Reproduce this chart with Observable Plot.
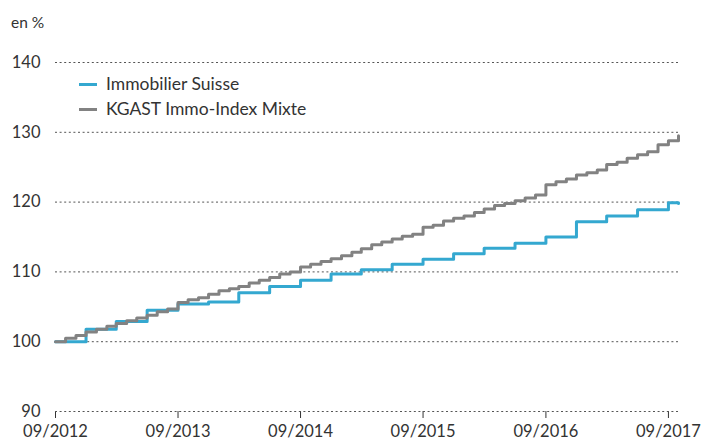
<!DOCTYPE html>
<html>
<head>
<meta charset="utf-8">
<script src="https://cdn.jsdelivr.net/npm/d3@7"></script>
<script src="https://cdn.jsdelivr.net/npm/@observablehq/plot@0.6"></script>
<style>
  html, body { margin: 0; padding: 0; background: #fff; }
  #wrap { position: relative; width: 702px; height: 441px; font-family: Lato, "Noto Sans", sans-serif; color: #333; }
  #unit { height: 40px; box-sizing: border-box; padding: 13px 0 0 11px; font-size: 15.5px; line-height: 18px; }
  #legend { position: absolute; left: 79px; top: 71px; font-size: 17.5px; line-height: 25px; }
  #legend .row { white-space: nowrap; }
  #legend .sw { display: inline-block; width: 18px; height: 3px; vertical-align: middle; margin-right: 9px; position: relative; top: -1px; }
  svg { display: block; }
</style>
</head>
<body>
<div id="wrap">
  <div id="unit">en %</div>
  <div id="chart"></div>
  <div id="legend"></div>
</div>
<script>
// ---- data ----
const startMonth = "2012-09-01";
const seriesNames = ["Immobilier Suisse", "KGAST Immo-Index Mixte"];
const seriesColors = ["#34a8d0", "#828282"];

// KGAST Immo-Index Mixte: monthly values from 09/2012 (index 0) to 10/2017 (index 61)
const kgastValues = [
  100.0, 100.5, 100.9, 101.4, 101.8, 102.2, 102.6, 103.0, 103.4, 103.8, 104.3, 104.7,
  105.6, 106.0, 106.3, 106.8, 107.3, 107.6, 107.9, 108.4, 108.8, 109.2, 109.7, 110.0,
  110.7, 111.1, 111.5, 111.9, 112.3, 112.8, 113.3, 113.9, 114.3, 114.7, 115.1, 115.4,
  116.4, 116.7, 117.3, 117.7, 118.0, 118.5, 119.0, 119.5, 119.8, 120.2, 120.6, 121.0,
  122.5, 122.9, 123.3, 123.9, 124.2, 124.6, 125.4, 125.7, 126.3, 126.8, 127.2, 128.2,
  128.8, 129.5
];

// Immobilier Suisse: month index and value (quarterly changes)
const immoMonths = [0, 3, 6, 9, 12, 15, 18, 21, 24, 27, 30, 33, 36, 39, 42, 45, 48, 51, 54, 57, 60, 61];
const immoValues = [100.0, 101.8, 102.9, 104.5, 105.4, 105.7, 107.0, 107.9, 108.8, 109.7, 110.3,
                    111.1, 111.8, 112.6, 113.4, 114.1, 115.0, 117.2, 118.0, 118.9, 119.9, 119.8];

const yTicks = [90, 100, 110, 120, 130, 140];
const xTickLabels = ["09/2012", "09/2013", "09/2014", "09/2015", "09/2016", "09/2017"];
const xDomainEnd = "2017-10-01";

// ---- build tables ----
const start = new Date(startMonth);
const monthDate = i => d3.utcMonth.offset(start, i);
const kgast = kgastValues.map((v, i) => ({date: monthDate(i), value: v}));
const immo = immoValues.map((v, i) => ({date: monthDate(immoMonths[i]), value: v}));
const xTicks = xTickLabels.map(s => { const [m, y] = s.split("/"); return new Date(Date.UTC(+y, +m - 1, 1)); });
const fmt = d => xTickLabels[xTicks.findIndex(t => +t === +d)];

const chart = Plot.plot({
  width: 702,
  height: 401,
  marginLeft: 55,
  marginRight: 24,
  marginTop: 22,
  marginBottom: 30,
  style: {fontFamily: "Lato, 'Noto Sans', sans-serif", fontSize: "16.5px", color: "#333", background: "#fff", overflow: "visible"},
  x: {type: "utc", domain: [start, new Date(xDomainEnd)], ticks: xTicks, tickFormat: fmt, tickSize: 7, tickPadding: 7, label: null},
  y: {domain: [90, 140], ticks: yTicks, tickSize: 0, tickPadding: 15, label: null},
  marks: [
    Plot.ruleY(yTicks, {stroke: "#555", strokeWidth: 1, strokeDasharray: "2,2.6"}),
    Plot.line(immo, {x: "date", y: "value", curve: "step-after", stroke: seriesColors[0], strokeWidth: 3}),
    Plot.line(kgast, {x: "date", y: "value", curve: "step-after", stroke: seriesColors[1], strokeWidth: 3})
  ]
});
document.getElementById("chart").appendChild(chart);

// legend
const legend = document.getElementById("legend");
seriesNames.forEach((n, i) => {
  const row = document.createElement("div");
  row.className = "row";
  const sw = document.createElement("span");
  sw.className = "sw";
  sw.style.background = seriesColors[i];
  row.appendChild(sw);
  row.appendChild(document.createTextNode(n));
  legend.appendChild(row);
});
</script>
</body>
</html>
